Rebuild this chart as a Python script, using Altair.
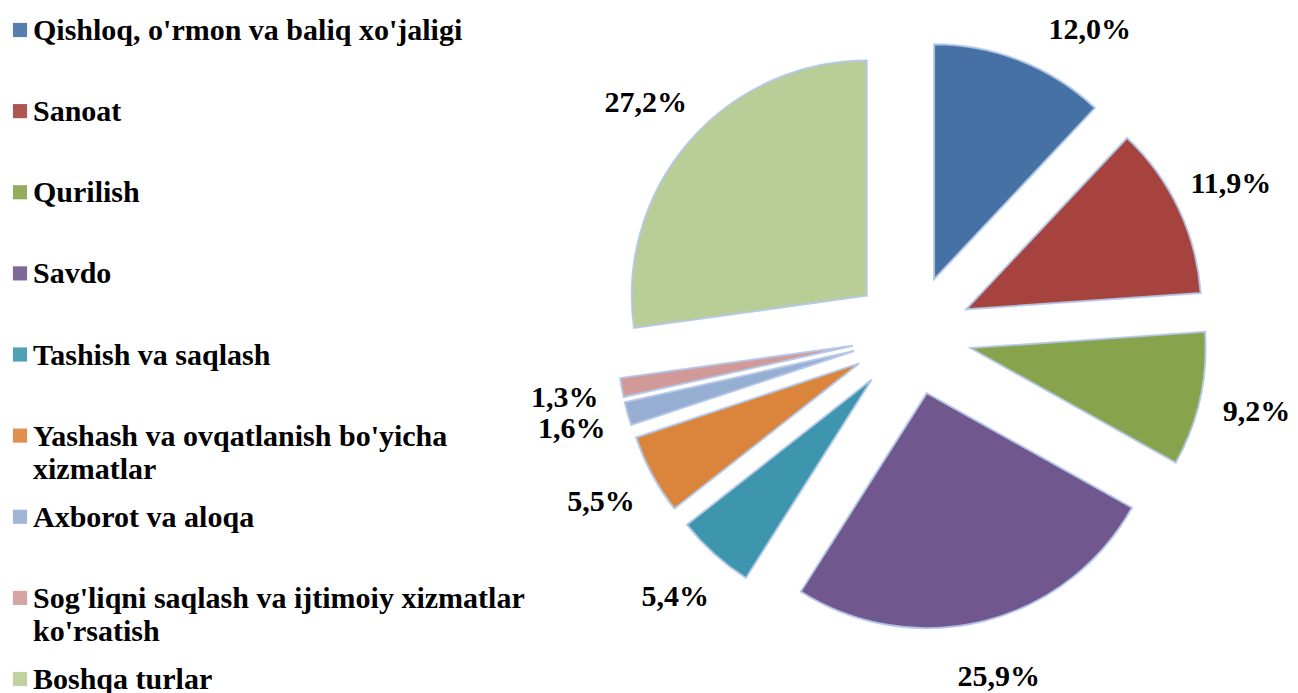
import math
import altair as alt
import pandas as pd

# ---- data ----
categories = [
    "Qishloq, o'rmon va baliq xo'jaligi",
    "Sanoat",
    "Qurilish",
    "Savdo",
    "Tashish va saqlash",
    "Yashash va ovqatlanish bo'yicha xizmatlar",
    "Axborot va aloqa",
    "Sog'liqni saqlash va ijtimoiy xizmatlar ko'rsatish",
    "Boshqa turlar",
]
legend_text = [
    "Qishloq, o'rmon va baliq xo'jaligi",
    "Sanoat",
    "Qurilish",
    "Savdo",
    "Tashish va saqlash",
    "Yashash va ovqatlanish bo'yicha|xizmatlar",
    "Axborot va aloqa",
    "Sog'liqni saqlash va ijtimoiy xizmatlar|ko'rsatish",
    "Boshqa turlar",
]
values = [12.0, 11.9, 9.2, 25.9, 5.4, 5.5, 1.6, 1.3, 27.2]
value_labels = ["12,0%", "11,9%", "9,2%", "25,9%", "5,4%", "5,5%", "1,6%", "1,3%", "27,2%"]
colors = ["#4571a5", "#a6433f", "#87a34c", "#70578e", "#3d96ae",
          "#db843b", "#97aed3", "#d19a99", "#b9cd96"]

# ---- layout constants ----
W, H = 1282, 690
CX, CY = 904, 327          # pie centre (chart coords)
R = 235                    # pie radius
EXPLODE = 60               # slice explosion distance
R_LAB = 353                # label distance from centre
YMIN = 22                  # labels kept below this
FONT = "Liberation Serif"

df = pd.DataFrame({
    "cat": categories,
    "value": values,
    "label": value_labels,
    "order": list(range(len(categories))),
})
leg = pd.DataFrame({"cat": categories, "text": legend_text})

color_scale = alt.Scale(domain=categories, range=colors)
theta_scale = alt.Scale(domain=[0, 100], range=[0, 2 * math.pi])

base = (
    alt.Chart(df)
    .transform_window(cum="sum(value)", sort=[alt.SortField("order")], frame=[None, 0])
    .transform_calculate(start="datum.cum - datum.value")
    .transform_calculate(ang="(datum.cum - datum.value / 2) / 100 * 2 * PI")
    .transform_calculate(px=f"{CX} + {EXPLODE} * sin(datum.ang)")
    .transform_calculate(py=f"{CY} - {EXPLODE} * cos(datum.ang)")
    .transform_calculate(ly=f"max({CY} - {R_LAB} * cos(datum.ang), {YMIN})")
    .transform_calculate(
        lx=f"{CX} + (sin(datum.ang) >= 0 ? 1 : -1) * sqrt(max(0, {R_LAB}*{R_LAB} - ({CY} - datum.ly)*({CY} - datum.ly)))"
    )
)

arcs = base.mark_arc(radius=R, stroke="#b3c6e8", strokeWidth=2, strokeOpacity=0.9).encode(
    theta=alt.Theta("start:Q", stack=None, scale=theta_scale),
    theta2=alt.Theta2("cum:Q"),
    x=alt.X("px:Q", scale=None),
    y=alt.Y("py:Q", scale=None),
    color=alt.Color("cat:N", scale=color_scale, legend=None),
)

labels = base.mark_text(
    font=FONT, fontSize=30, fontWeight="bold", color="black",
    align="center", baseline="middle",
).encode(
    x=alt.X("lx:Q", scale=None),
    y=alt.Y("ly:Q", scale=None),
    text="label:N",
)

leg_y = alt.Y("cat:N", sort=categories, axis=None,
              scale=alt.Scale(type="point", range=[22, 671], padding=0))

leg_squares = alt.Chart(leg).mark_square(size=200, opacity=0.9).encode(
    x=alt.value(12),
    y=leg_y,
    color=alt.Color("cat:N", scale=color_scale, legend=None),
)

leg_text = alt.Chart(leg).mark_text(
    font=FONT, fontSize=30, fontWeight="bold", color="black",
    align="left", baseline="top", dy=-14, lineBreak="|", lineHeight=33,
).encode(
    x=alt.value(25),
    y=leg_y,
    text="text:N",
)

chart = (
    alt.layer(arcs, labels, leg_squares, leg_text)
    .resolve_scale(y="independent", x="independent")
    .properties(width=W, height=H, padding=0, autosize="none")
    .configure_view(stroke=None)
)

chart.save("out.html", embed_options={"renderer": "svg", "actions": False})
